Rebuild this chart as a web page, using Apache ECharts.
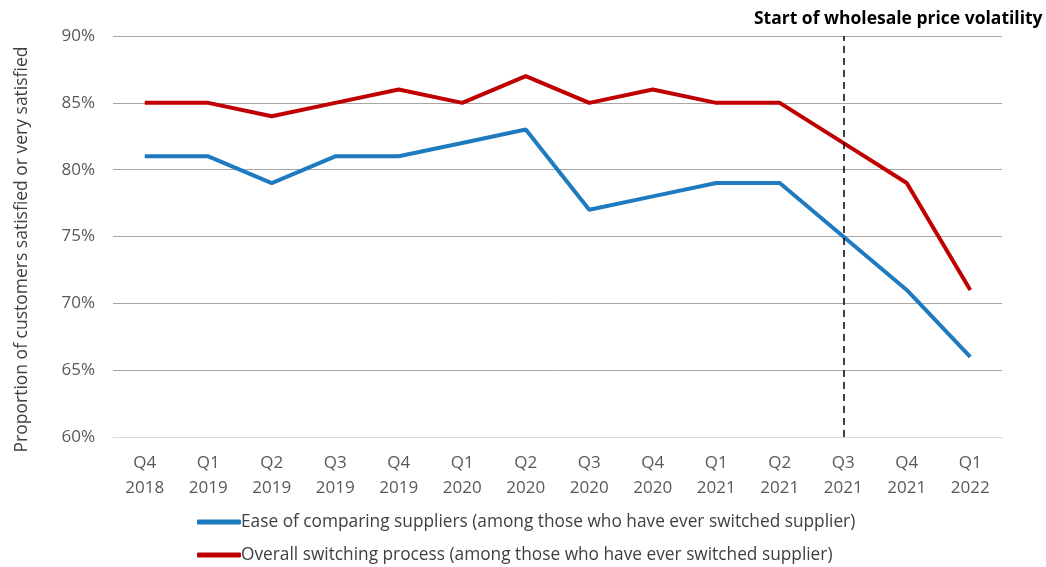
<!DOCTYPE html>
<html>
<head>
<meta charset="utf-8">
<script src="https://cdn.jsdelivr.net/npm/echarts@6/dist/echarts.min.js"></script>
<style>
  html, body { margin: 0; padding: 0; background: #fff; }
  #chart { width: 1046px; height: 567px; }
</style>
</head>
<body>
<div id="chart"></div>
<script>
// Quarterly survey waves
const categories = ['Q4\n2018', 'Q1\n2019', 'Q2\n2019', 'Q3\n2019', 'Q4\n2019', 'Q1\n2020', 'Q2\n2020',
                    'Q3\n2020', 'Q4\n2020', 'Q1\n2021', 'Q2\n2021', 'Q3\n2021', 'Q4\n2021', 'Q1\n2022'];

// Share of customers satisfied or very satisfied (%)
const easeOfComparing = [81, 81, 79, 81, 81, 82, 83, 77, 78, 79, 79, 75, 71, 66];
const overallSwitching = [85, 85, 84, 85, 86, 85, 87, 85, 86, 85, 85, 82, 79, 71];

const seriesNames = [
  'Ease of comparing suppliers (among those who have ever switched supplier)',
  'Overall switching process (among those who have ever switched supplier)'
];

const volatilityStart = 'Q3\n2021';
const volatilityLabel = 'Start of wholesale price volatility';

const FONT = '"Open Sans", Lato, sans-serif';
const TEXT = '#595959';

const chart = echarts.init(document.getElementById('chart'), null, { renderer: 'canvas' });

chart.setOption({
  animation: false,
  textStyle: { fontFamily: FONT },
  grid: { left: 113, right: 44, top: 36, bottom: 130, containLabel: false },
  legend: {
    orient: 'vertical',
    left: 197,
    top: 510,
    height: 90,
    padding: 0,
    itemWidth: 44,
    itemHeight: 5,
    itemGap: 9,
    icon: 'roundRect',
    textStyle: { fontFamily: FONT, fontSize: 17.3, color: '#404040', lineHeight: 24, padding: [0, 0, 0, -5] },
    data: seriesNames
  },
  xAxis: {
    type: 'category',
    data: categories,
    boundaryGap: true,
    axisLine: { show: true, lineStyle: { color: '#D9D9D9', width: 1 } },
    axisTick: { show: false },
    axisLabel: { fontFamily: FONT, fontSize: 17, color: TEXT, lineHeight: 25, margin: 14, interval: 0 }
  },
  yAxis: {
    type: 'value',
    min: 60,
    max: 90,
    interval: 5,
    name: 'Proportion of customers satisfied or very satisfied',
    nameLocation: 'middle',
    nameGap: 82,
    nameRotate: 90,
    nameTextStyle: { fontFamily: FONT, fontSize: 17.5, color: '#404040', padding: [0, 26, 0, 0] },
    axisLine: { show: false },
    axisTick: { show: false },
    axisLabel: { fontFamily: FONT, fontSize: 17, color: TEXT, margin: 18, formatter: '{value}%' },
    splitLine: { lineStyle: { color: '#A6A6A6', width: 1 } }
  },
  series: [
    {
      name: seriesNames[0],
      type: 'line',
      data: easeOfComparing,
      showSymbol: false,
      symbol: 'none',
      lineStyle: { color: '#1F7BC0', width: 4 },
      itemStyle: { color: '#1F7BC0' },
      markLine: {
        silent: true,
        symbol: ['none', 'none'],
        lineStyle: { color: '#000', type: [7, 5], width: 1.5 },
        label: {
          show: true,
          position: 'end',
          formatter: volatilityLabel,
          fontFamily: FONT,
          fontSize: 17.5,
          fontWeight: 'bold',
          color: '#000',
          offset: [55, -3]
        },
        data: [{ xAxis: volatilityStart }]
      }
    },
    {
      name: seriesNames[1],
      type: 'line',
      data: overallSwitching,
      showSymbol: false,
      symbol: 'none',
      lineStyle: { color: '#C00000', width: 4 },
      itemStyle: { color: '#C00000' }
    }
  ]
});
</script>
</body>
</html>
